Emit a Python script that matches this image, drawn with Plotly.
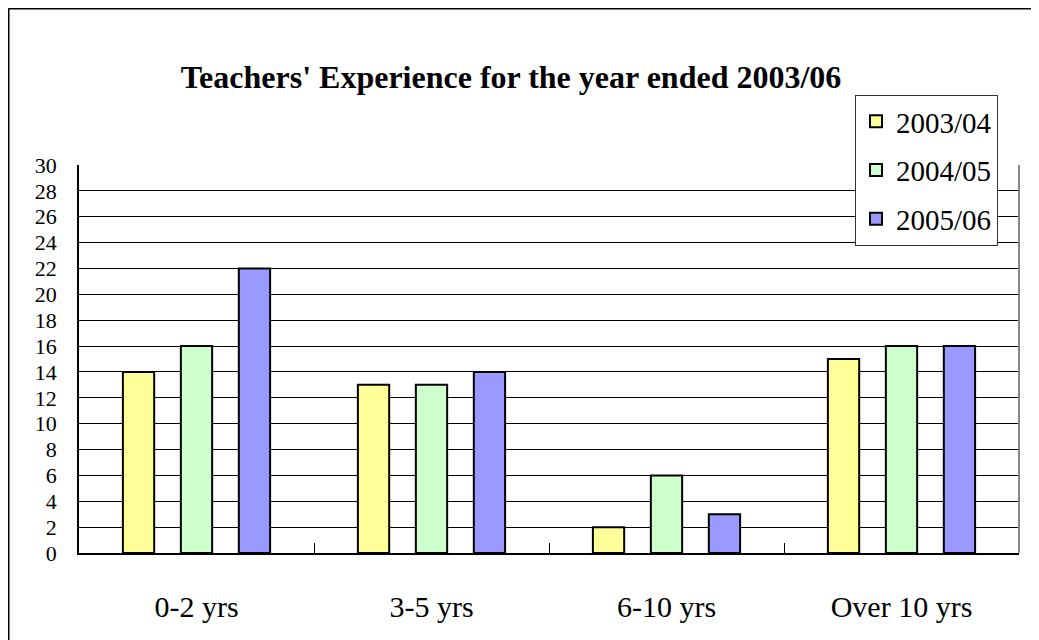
import plotly.graph_objects as go

categories = ["0-2 yrs", "3-5 yrs", "6-10 yrs", "Over 10 yrs"]
series_names = ["2003/04", "2004/05", "2005/06"]
values_2003_04 = [14, 13, 2, 15]
values_2004_05 = [16, 13, 6, 16]
values_2005_06 = [22, 14, 3, 16]
colors = ["#FFFF99", "#CCFFCC", "#9999FF"]
y_ticks = list(range(0, 31, 2))

FONT = "Liberation Serif, Times New Roman, serif"

# page has an 8px body margin; figure is sized/offset accordingly
W, H = 1031, 632
L, T = 71, 157
PW, PH = 940, 388

fig = go.Figure()
for i, (name, vals) in enumerate(zip(series_names, [values_2003_04, values_2004_05, values_2005_06])):
    fig.add_trace(go.Bar(
        x=categories, y=vals, name=name, legendgroup=name,
        marker=dict(color=colors[i], line=dict(color="black", width=2)),
    ))

fig.update_layout(
    width=W, height=H,
    margin=dict(l=L, r=W - L - PW, t=T, b=H - T - PH),
    paper_bgcolor="white", plot_bgcolor="white",
    barmode="group", bargap=0.26, bargroupgap=0.46,
    title=dict(text="<b>Teachers' Experience for the year ended 2003/06</b>",
               font=dict(family=FONT, size=32, color="black"),
               x=503 / W, xanchor="center", xref="container",
               y=1 - 69 / H, yanchor="middle", yref="container"),
    legend=dict(x=(847 - L) / PW, y=(T + PH - 87) / PH, xanchor="left", yanchor="top",
                bgcolor="white", bordercolor="#333333", borderwidth=1,
                font=dict(family=FONT, size=29, color="black"),
                traceorder="grouped", tracegroupgap=8),
    showlegend=True,
)
fig.update_xaxes(
    showline=True, linecolor="black", linewidth=1.5,
    ticks="inside", tickson="boundaries", ticklen=10, tickcolor="black",
    tickfont=dict(family=FONT, size=30, color="black"),
    ticklabelstandoff=26, showgrid=False,
)
fig.update_yaxes(
    range=[0, 30], tickvals=y_ticks, ticktext=[str(v) for v in y_ticks],
    showline=True, linecolor="black", linewidth=1.5,
    showgrid=True, gridcolor="black", gridwidth=1,
    tickfont=dict(family=FONT, size=22, color="black"),
    ticks="", ticklabelstandoff=16, zeroline=False,
)
# right border of plot area
fig.add_shape(type="line", xref="paper", yref="paper", x0=1, x1=1, y0=0, y1=1,
              line=dict(color="#888888", width=2))
# outer chart border (left and top)
bx = (0.5 - L) / PW
by = (T + PH - 0.5) / PH
fig.add_shape(type="line", xref="paper", yref="paper",
              x0=bx, x1=bx, y0=(T + PH - H - 10) / PH, y1=by,
              line=dict(color="black", width=2))
fig.add_shape(type="line", xref="paper", yref="paper",
              x0=bx, x1=(W + 10 - L) / PW, y0=by, y1=by,
              line=dict(color="black", width=2))

fig.write_html("out.html")
